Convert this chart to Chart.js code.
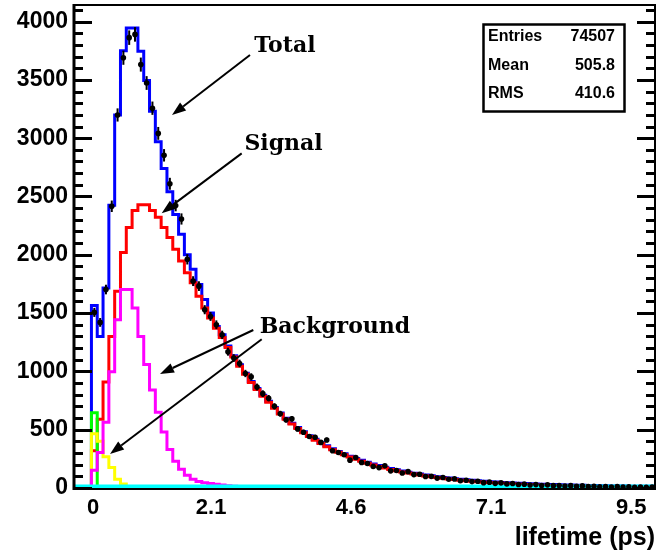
<!DOCTYPE html>
<html><head><meta charset="utf-8">
<script src="https://cdn.jsdelivr.net/npm/chart.js@4.4.1/dist/chart.umd.min.js"></script>
<style>html,body{margin:0;padding:0;background:#fff}canvas{display:block}</style>
</head><body>
<canvas id="c" width="659" height="559"></canvas>
<script>
// x axis is in bin units: bin i spans [i, i+1]
const binCount = 100;
const xTickPositions = [3.3, 23.6, 47.7, 71.8, 95.9];
const xTickLabels = ['0', '2.1', '4.6', '7.1', '9.5'];
const yTickValues = [0, 500, 1000, 1500, 2000, 2500, 3000, 3500, 4000];
const yMinorTickValues = [100,200,300,400,600,700,800,900,1100,1200,1300,1400,1600,1700,1800,1900,2100,2200,2300,2400,2600,2700,2800,2900,3100,3200,3300,3400,3600,3700,3800,3900,4100];
const yMax = 4142;

const dataCounts = [null,null,null,1506,1420,1702,2416,3199,3690,3862,3890,3631,3473,3257,3041,2853,2609,2422,2307,1961,1774,1731,1529,1471,1400,1313,1169,1114,1068,982,953,866,809,770,700,637,585,593,507,478,441,435,391,412,320,305,285,239,262,219,210,184,175,190,147,150,128,140,115,118,98,100,85,90,75,78,62,66,55,58,46,50,40,44,35,38,30,33,26,29,22,27,20,22,17,20,14,18,12,15,11,13,9,12,8,10,7,9,6,8];

const totalFit = [0,0,0,1564,1300,1716,2425,3199,3750,3945,3945,3745,3495,3230,2969,2740,2540,2345,2177,2000,1875,1745,1616,1500,1385,1315,1218,1135,1058,985,913,853,795,743,691,643,598,556,518,482,449,418,389,362,337,314,293,273,254,237,221,206,192,179,167,156,146,136,127,119,111,104,97,91,85,80,75,70,66,62,58,54,51,48,45,43,40,38,36,34,32,30,29,27,26,25,24,23,22,21,20,19,18,17,17,16,16,15,15,14];

const signalFit = [0,0,0,320,590,910,1299,1688,2019,2235,2379,2428,2428,2379,2321,2235,2149,2048,1947,1846,1760,1644,1544,1457,1371,1290,1205,1123,1045,975,905,845,787,735,683,635,590,548,510,474,441,410,381,354,329,306,285,265,246,229,213,198,184,171,159,148,138,128,119,111,103,96,89,83,77,72,67,62,58,54,50,46,43,40,37,35,32,30,28,26,24,22,21,19,18,17,16,15,14,13,12,11,10,9,9,8,8,7,7,6];

const bkgMagenta = [0,0,0,153,305,564,996,1443,1702,1702,1544,1300,1060,840,650,480,330,230,160,110,75,55,45,38,32,26,20,15,10,6,3,0,0,0,0,0,0,0,0,0,0,0,0,0,0,0,0,0,0,0,0,0,0,0,0,0,0,0,0,0,0,0,0,0,0,0,0,0,0,0,0,0,0,0,0,0,0,0,0,0,0,0,0,0,0,0,0,0,0,0,0,0,0,0,0,0,0,0,0,0];

const bkgYellow = [0,0,0,465,400,268,176,75,35,0,0,0,0,0,0,0,0,0,0,0,0,0,0,0,0,0,0,0,0,0,0,0,0,0,0,0,0,0,0,0,0,0,0,0,0,0,0,0,0,0,0,0,0,0,0,0,0,0,0,0,0,0,0,0,0,0,0,0,0,0,0,0,0,0,0,0,0,0,0,0,0,0,0,0,0,0,0,0,0,0,0,0,0,0,0,0,0,0,0,0];

const bkgGreen = [0,0,0,645,0,0,0,0,0,0,0,0,0,0,0,0,0,0,0,0,0,0,0,0,0,0,0,0,0,0,0,0,0,0,0,0,0,0,0,0,0,0,0,0,0,0,0,0,0,0,0,0,0,0,0,0,0,0,0,0,0,0,0,0,0,0,0,0,0,0,0,0,0,0,0,0,0,0,0,0,0,0,0,0,0,0,0,0,0,0,0,0,0,0,0,0,0,0,0,0];

const bkgCyan = [12,12,12,12,12,12,12,12,12,12,12,12,12,12,12,12,12,12,12,12,12,12,12,12,12,12,12,12,12,12,12,12,12,12,12,12,12,12,12,12,12,12,12,12,12,12,12,12,12,12,12,12,12,12,12,12,12,12,12,12,12,12,12,12,12,12,12,12,12,12,12,12,12,12,12,12,12,12,12,12,12,12,12,12,12,12,12,12,12,12,12,12,12,12,12,12,12,12,12,12];

const statNames = ['Entries', 'Mean', 'RMS'];
const statValues = ['74507', '505.8', '410.6'];

const annotationTexts = [
  {text: 'Total', x: 36.3, y: 3785},
  {text: 'Signal', x: 36.06, y: 2945},
  {text: 'Background', x: 44.92, y: 1380}
];
const annotationArrows = [
  {x0: 30.29, y0: 3713, x1: 16.87, y1: 3199},
  {x0: 28.86, y0: 2870, x1: 15.09, y1: 2356},
  {x0: 30.86, y0: 1355, x1: 14.80, y1: 978},
  {x0: 32.31, y0: 1275, x1: 6.20, y1: 292}
];

function histPoints(arr) {
  const pts = [];
  arr.forEach((v, i) => { pts.push({x: i, y: v}); pts.push({x: i + 1, y: v}); });
  return pts;
}
function histDataset(arr, color, width) {
  return {type: 'line', data: histPoints(arr), borderColor: color, borderWidth: width,
    pointRadius: 0, tension: 0, fill: false, borderJoinStyle: 'miter', borderCapStyle: 'butt'};
}

const sansBold = (s) => ({family: "'Liberation Sans', Arial, sans-serif", weight: 'bold', size: s});

const decor = {
  id: 'decor',
  afterDatasetsDraw(chart) {
    const ctx = chart.ctx;
    const a = chart.chartArea;
    const xs = chart.scales.x, ys = chart.scales.y;
    ctx.save();
    ctx.strokeStyle = '#000'; ctx.lineWidth = 2;
    dataCounts.forEach((v, i) => {
      if (v == null) return;
      const e = Math.sqrt(v);
      const px = xs.getPixelForValue(i + 0.5);
      ctx.beginPath();
      ctx.moveTo(px, Math.min(ys.getPixelForValue(v - e), a.bottom));
      ctx.lineTo(px, ys.getPixelForValue(v + e));
      ctx.stroke();
    });
    ctx.restore();
  },
  afterDraw(chart) {
    const ctx = chart.ctx;
    const a = chart.chartArea;
    const xs = chart.scales.x, ys = chart.scales.y;
    ctx.save();
    // frame
    ctx.fillStyle = '#000';
    ctx.fillRect(a.left, a.top - 1, a.right - a.left + 1, 2);
    ctx.fillRect(a.right - 1, a.top - 1, 2, a.bottom - a.top + 3);
    ctx.fillRect(a.left - 1, a.bottom, a.right - a.left + 1, 2);
    ctx.fillRect(a.left - 1.5, a.top - 1, 3, a.bottom - a.top + 3);
    // inward axis ticks (left and right)
    const allTicks = yTickValues.map(v => [v, 18]).concat(yMinorTickValues.map(v => [v, 9]));
    allTicks.forEach(([v, len]) => {
      const py = Math.round(ys.getPixelForValue(v));
      ctx.fillRect(a.left, py - 1, len, 3);
      ctx.fillRect(a.right - len, py - 1, len, 3);
    });
    // stats box
    const bx = 483.5, by = 24.5, bw = 141, bh = 87;
    ctx.fillStyle = '#fff';
    ctx.fillRect(bx, by, bw, bh);
    ctx.strokeStyle = '#000'; ctx.lineWidth = 2.5;
    ctx.strokeRect(bx, by, bw, bh);
    ctx.fillStyle = '#000';
    ctx.font = "bold 16px 'Liberation Sans', Arial, sans-serif";
    ctx.textBaseline = 'middle';
    statNames.forEach((n, i) => {
      const ty = 37 + i * 28.5;
      ctx.textAlign = 'left'; ctx.fillText(n, 488, ty);
      ctx.textAlign = 'right'; ctx.fillText(statValues[i], 615, ty);
    });
    ctx.font = "bold 22px 'DejaVu Serif', serif";
    ctx.textAlign = 'center';
    annotationTexts.forEach(t => {
      ctx.fillText(t.text, xs.getPixelForValue(t.x), ys.getPixelForValue(t.y));
    });
    ctx.strokeStyle = '#000'; ctx.lineWidth = 2;
    annotationArrows.forEach(ar => {
      const x0 = xs.getPixelForValue(ar.x0), y0 = ys.getPixelForValue(ar.y0);
      const x1 = xs.getPixelForValue(ar.x1), y1 = ys.getPixelForValue(ar.y1);
      const ang = Math.atan2(y1 - y0, x1 - x0);
      const hl = 14, hw = 5;
      const bxp = x1 - hl * Math.cos(ang), byp = y1 - hl * Math.sin(ang);
      ctx.beginPath(); ctx.moveTo(x0, y0); ctx.lineTo(bxp, byp); ctx.stroke();
      ctx.beginPath();
      ctx.moveTo(x1, y1);
      ctx.lineTo(bxp + hw * Math.sin(ang), byp - hw * Math.cos(ang));
      ctx.lineTo(bxp - hw * Math.sin(ang), byp + hw * Math.cos(ang));
      ctx.closePath(); ctx.fill();
    });
    ctx.restore();
  }
};

const pointData = dataCounts.map((v, i) => ({x: i + 0.5, y: v})).filter(p => p.y != null);

new Chart(document.getElementById('c'), {
  type: 'line',
  data: {
    datasets: [
      {type: 'line', data: pointData, showLine: false, pointRadius: 2.8, pointBackgroundColor: '#000', pointBorderWidth: 0, borderColor: '#000'},
      histDataset(bkgCyan, '#00FFFF', 4),
      histDataset(bkgMagenta, '#FF00FF', 3),
      histDataset(bkgYellow, '#FFFF00', 3),
      histDataset(bkgGreen, '#00FF00', 3),
      histDataset(signalFit, '#FF0000', 3),
      histDataset(totalFit, '#0000FF', 3)
    ]
  },
  options: {
    responsive: false,
    devicePixelRatio: 1,
    animation: false,
    events: [],
    layout: {padding: {top: 5, right: 4, left: 0, bottom: 0}},
    plugins: {legend: {display: false}, tooltip: {enabled: false}},
    scales: {
      x: {
        type: 'linear', min: 0, max: binCount,
        grid: {display: false, drawTicks: false},
        border: {display: false},
        afterBuildTicks: s => { s.ticks = xTickPositions.map(v => ({value: v})); },
        afterFit: s => { s.height = 71; s.paddingLeft = 0; s.paddingRight = 0; },
        ticks: {
          autoSkip: false, maxRotation: 0, padding: 7, color: '#000', font: sansBold(22),
          callback: (v, i) => xTickLabels[i]
        },
        title: {display: true, text: 'lifetime (ps)', align: 'end', color: '#000', font: sansBold(25), padding: {top: 0, bottom: 6}}
      },
      y: {
        type: 'linear', min: 0, max: yMax,
        grid: {display: false, drawTicks: false},
        border: {display: false},
        afterBuildTicks: s => { s.ticks = yTickValues.map(v => ({value: v})); },
        afterFit: s => { s.width = 74; s.paddingTop = 0; s.paddingBottom = 0; },
        ticks: {autoSkip: false, padding: 6, color: '#000', font: sansBold(23), callback: v => String(v)}
      }
    }
  },
  plugins: [decor]
});
</script>
</body></html>
